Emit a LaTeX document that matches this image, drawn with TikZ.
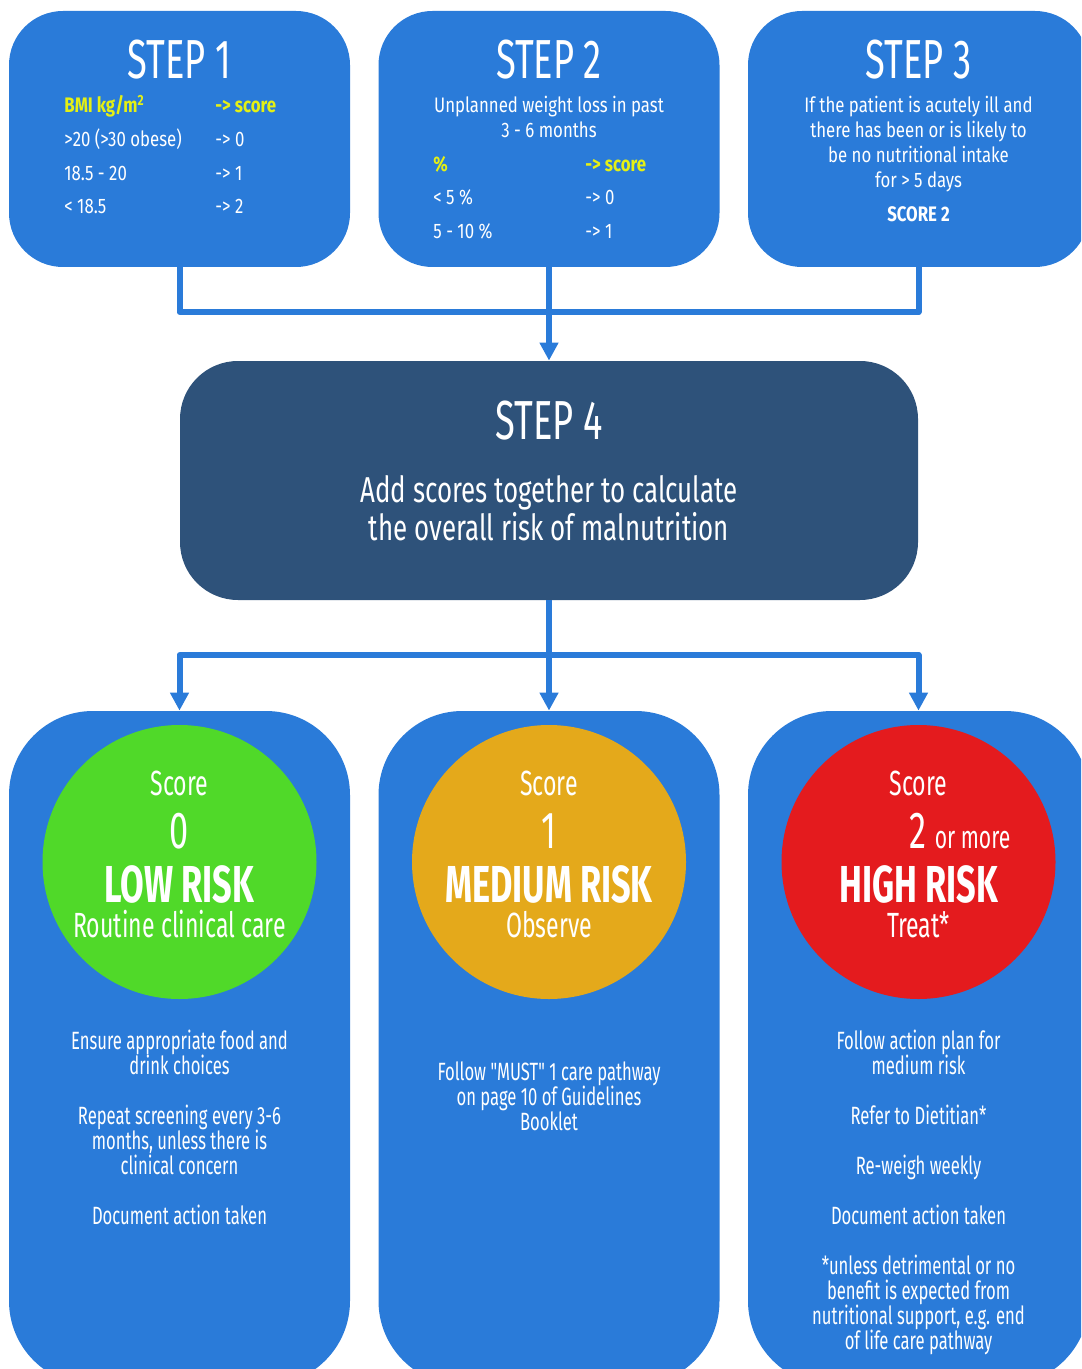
\documentclass[tikz,border=0pt]{standalone}
\usepackage{fontspec}
\setmainfont{Fira Sans}[FakeStretch=0.66]
\newfontfamily\widefont{Fira Sans}[FakeStretch=0.8]
\newfontfamily\midfont{Fira Sans}[FakeStretch=0.72]
\newfontfamily\actfont{Fira Sans}[FakeStretch=0.665, Ligatures=TeXOff]
\usetikzlibrary{arrows.meta}

\definecolor{mustblue}{HTML}{2A7BD9}
\definecolor{mustnavy}{HTML}{2E527A}
\definecolor{lowgreen}{HTML}{50D929}
\definecolor{medamber}{HTML}{E4A91B}
\definecolor{highred}{HTML}{E41B1E}
\definecolor{scoreyellow}{HTML}{E4F014}

\newcommand{\titlesize}{\fontsize{27.5}{30}\selectfont}
\newcommand{\bodysize}{\widefont\fontsize{10.5}{12.5}\selectfont\lineskiplimit=-20pt}
\newcommand{\addsize}{\midfont\fontsize{18}{19}\selectfont\lineskiplimit=-20pt}
\newcommand{\scoresize}{\fontsize{17.5}{19}\selectfont}
\newcommand{\moresize}{\fontsize{16}{18}\selectfont}
\newcommand{\digitsize}{\fontsize{26}{28}\selectfont}
\newcommand{\risksize}{\fontsize{26}{28}\selectfont\bfseries}
\newcommand{\actsize}{\actfont\fontsize{12.5}{12.5}\selectfont\lineskiplimit=-20pt}

\tikzset{
	stepbox/.style={fill=mustblue, rounded corners=27pt, minimum width=170.5pt, minimum height=128pt},
	sumbox/.style={fill=mustnavy, rounded corners=29pt, minimum width=369pt, minimum height=119.5pt},
	riskbox/.style={fill=mustblue, rounded corners=42pt, minimum width=170.5pt, minimum height=337pt},
	riskdot/.style={circle, minimum size=137pt, inner sep=0pt},
	link/.style={draw=mustblue, line width=3pt, line join=round},
	arrow/.style={link, -{Triangle[width=9pt,length=9pt]}},
	txt/.style={text=white, anchor=base, inner sep=0pt, align=center},
	cell/.style={text=white, anchor=base west, inner sep=0pt, font=\bodysize},
	head/.style={cell, text=scoreyellow, font=\bodysize\bfseries}
}

\begin{document}
\begin{tikzpicture}[x=0.5pt,y=-0.5pt]
\useasboundingbox (0,0) rectangle (1081,1369);
\clip (0,0) rectangle (1081,1369);

% the three steps
\node[stepbox] (step1) at (179.5,139) {};
\node[stepbox] (step2) at (549,139) {};
\node[stepbox] (step3) at (918.5,139) {};
\foreach \n/\x in {1/179.5,2/549,3/918.5}
	\node[txt, font=\titlesize] (title\n) at (\x,79) {STEP \n};

% step 1: BMI
\node[head] (bmi) at (64,113) {BMI kg/m\textsuperscript{2}};
\node[head] (bmiscore) at (215,113) {-> score};
\node[cell] (bmia) at (64,147) {>20 (>30 obese)};
\node[cell] (bmib) at (64,181) {18.5 - 20};
\node[cell] (bmic) at (64,214) {< 18.5};
\node[cell] (bmia2) at (215,147) {-> 0};
\node[cell] (bmib2) at (215,181) {-> 1};
\node[cell] (bmic2) at (215,214) {-> 2};

% step 2: weight loss (base = last line)
\node[txt, font=\bodysize] (loss) at (549,138) {Unplanned weight loss in past\\3 - 6 months};
\node[head] (pct) at (433,172) {\%};
\node[head] (pctscore) at (585,172) {-> score};
\node[cell] (pcta) at (433,205) {< 5 \%};
\node[cell] (pctb) at (433,239) {5 - 10 \%};
\node[cell] (pcta2) at (585,205) {-> 0};
\node[cell] (pctb2) at (585,239) {-> 1};

% step 3: acute illness
\node[txt, font=\bodysize] (ill) at (918.5,188) {If the patient is acutely ill and\\there has been or is likely to\\be no nutritional intake\\for > 5 days};
\node[txt, font=\bodysize\bfseries] (illscore) at (918.5,222) {SCORE 2};

% step 4
\node[sumbox] (step4) at (549,480.5) {};
\node[txt, font=\titlesize] (title4) at (549,439) {STEP 4};
\node[txt, font=\addsize] (add) at (549,540) {Add scores together to calculate\\the overall risk of malnutrition};

\coordinate (merge) at (549,312);
\draw[link] (step1.south) |- (merge) -| (step3.south);
\draw[arrow] (step2.south) -- (step4.north);

% outcomes
\foreach \n/\x in {low/179.5,med/549,high/918.5}
	\node[riskbox] (\n) at (\x,1048) {};
\coordinate (split) at (549,655);
\draw[link] (step4.south) -- (split);
\foreach \n in {low,med,high}
	\draw[arrow] (split) -| (\n.north);

\node[riskdot, fill=lowgreen] (lowdot) at (179.5,862) {};
\node[riskdot, fill=medamber] (meddot) at (549,862) {};
\node[riskdot, fill=highred] (highdot) at (918.5,862) {};
\foreach \n/\x in {low/179.5,med/549,high/918.5}
	\node[txt, font=\scoresize] (score\n) at (\x,795) {Score};

\node[txt, font=\digitsize] (lownum) at (179.5,848) {0};
\node[txt, font=\digitsize] (mednum) at (549,848) {1};
\node[txt, font=\digitsize] (highnum) at (917.5,848) {2};
\node[txt, font=\moresize, anchor=base west] (highmore) at ([xshift=4pt]highnum.base east) {or more};

\node[txt, font=\risksize] (lowrisk) at (179.5,902) {LOW RISK};
\node[txt, font=\risksize] (medrisk) at (549,902) {MEDIUM RISK};
\node[txt, font=\risksize] (highrisk) at (918.5,902) {HIGH RISK};
\node[txt, font=\scoresize] (lowcare) at (179.5,937) {Routine clinical care};
\node[txt, font=\scoresize] (medcare) at (549,937) {Observe};
\node[txt, font=\scoresize] (highcare) at (918.5,937) {Treat*};

% actions (base = last line)
\node[txt, font=\actsize] (lowact) at (179.5,1224) {Ensure appropriate food and\\drink choices\\[12.5pt]Repeat screening every 3-6\\months, unless there is\\clinical concern\\[12.5pt]Document action taken};
\node[txt, font=\actsize] (medact) at (549,1130) {Follow "MUST" 1 care pathway\\on page 10 of Guidelines\\Booklet};
\node[txt, font=\actsize] (highact) at (918.5,1349) {Follow action plan for\\medium risk\\[12.5pt]Refer to Dietitian*\\[12.5pt]Re-weigh weekly\\[12.5pt]Document action taken\\[12.5pt]*unless detrimental or no\\benefit is expected from\\nutritional support, e.g. end\\of life care pathway};
\end{tikzpicture}
\end{document}
